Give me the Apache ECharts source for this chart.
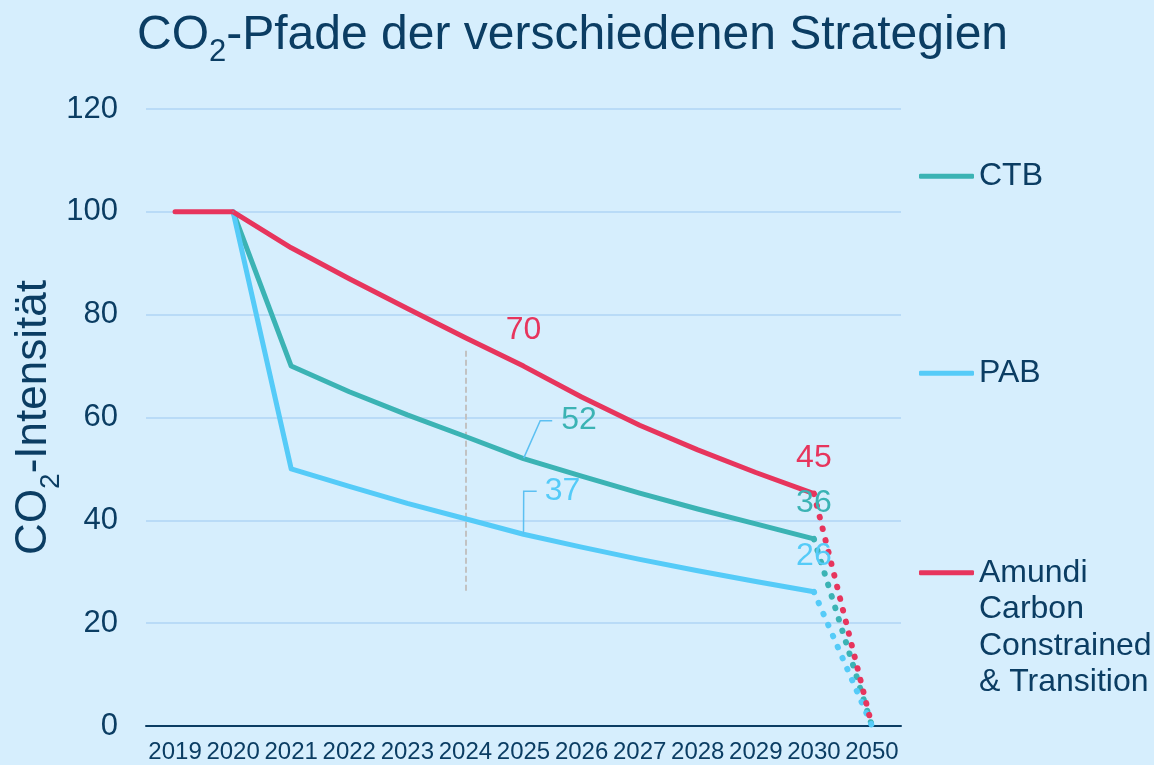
<!DOCTYPE html>
<html>
<head>
<meta charset="utf-8">
<script src="https://cdn.jsdelivr.net/npm/echarts/dist/echarts.min.js"></script>
<style>
  html, body { margin: 0; padding: 0; background: #d6eefd; }
  #chart { width: 1154px; height: 765px; }
</style>
</head>
<body>
<div id="chart"></div>
<script>
  // Kategorien (Jahre) und Pfade
  const years = ['2019', '2020', '2021', '2022', '2023', '2024', '2025', '2026', '2027', '2028', '2029', '2030', '2050']
  const ctbValues = [null, 100, 70, 65, 60.5, 56.3, 52, 48.6, 45.3, 42.2, 39.3, 36.4, null]
  const pabValues = [null, 100, 50, 46.6, 43.3, 40.3, 37.3, 34.8, 32.4, 30.2, 28.1, 26.1, null]
  const amundiValues = [100, 100, 93, 87, 81.2, 75.5, 70, 64, 58.5, 53.7, 49.3, 45.2, null]
  // gepunktete Fortsetzung 2030 -> 2050
  const ctbOutlook = [null, null, null, null, null, null, null, null, null, null, null, 36.4, 0]
  const pabOutlook = [null, null, null, null, null, null, null, null, null, null, null, 26.1, 0]
  const amundiOutlook = [null, null, null, null, null, null, null, null, null, null, null, 45.2, 0]
  const yTicks = [0, 20, 40, 60, 80, 100, 120]
  // beschriftete Punkte und Hilfslinie
  const labelYears = ['2025', '2030']
  const guideYear = '2024'
  const guideRange = [73, 26]

  const names = ['CTB', 'PAB', 'Amundi Carbon Constrained & Transition']
  const colors = ['#3bb3b4', '#55cbf8', '#e7355d']
  const navy = '#0b3d63'
  const font = 'Arial, "Liberation Sans", Helvetica, sans-serif'

  const chart = echarts.init(document.getElementById('chart'), null, { renderer: 'canvas' })

  function withLabels(values, color, leader) {
    return values.map(function(v, i) {
      if (v == null || labelYears.indexOf(years[i]) < 0) return v
      const item = {
        value: v,
        label: {
          show: true,
          color: color,
          fontSize: 32,
          fontFamily: font,
          position: 'top',
          distance: 19,
          formatter: function(p) { return Math.round(p.value) }
        }
      }
      if (leader && years[i] === '2025') {
        // Beschriftung seitlich versetzt, mit Fuehrungslinie
        item.label.position = 'inside'
        item.label.backgroundColor = 'rgba(0,0,0,0)'
        item.label.padding = [leader.padV, 0, leader.padV, leader.pad]
        item.labelLine = { show: true, length2: leader.len, lineStyle: { color: '#5cc0f2', width: 1.5 } }
      }
      return item
    })
  }

  function solidSeries(idx, values, leader) {
    return {
      type: 'line',
      name: names[idx],
      data: withLabels(values, colors[idx], leader),
      color: colors[idx],
      symbol: 'circle',
      symbolSize: 1,
      showSymbol: true,
      lineStyle: { width: 5, color: colors[idx], cap: 'round', join: 'round' },
      labelLine: { show: false },
      labelLayout: leader ? function(p) {
        if (years[p.dataIndex] === '2025') return { dx: leader.dx, dy: leader.dy }
        return {}
      } : null,
      emphasis: { disabled: true },
      z: 3
    }
  }

  function dottedSeries(idx, values) {
    return {
      type: 'line',
      name: names[idx] + ' 2050',
      data: values,
      showSymbol: false,
      color: colors[idx],
      lineStyle: { width: 6, color: colors[idx], type: [0.5, 11.5], cap: 'round' },
      emphasis: { disabled: true },
      z: 2
    }
  }

  const ctb = solidSeries(0, ctbValues, { pad: 9, padV: 0, len: 12, dx: 51, dy: -38 })
  ctb.markLine = {
    silent: true,
    symbol: 'none',
    z: 1,
    label: { show: false },
    lineStyle: { color: '#c2c2c2', width: 2, type: [6, 3] },
    data: [[{ coord: [guideYear, guideRange[0]] }, { coord: [guideYear, guideRange[1]] }]]
  }

  chart.setOption({
    animation: false,
    backgroundColor: '#d6eefd',
    textStyle: { fontFamily: font },
    title: {
      text: 'CO{sub|2}-Pfade der verschiedenen Strategien',
      left: 132,
      top: -2,
      textStyle: {
        color: navy,
        fontSize: 48,
        fontWeight: 'normal',
        fontFamily: font,
        rich: {
          sub: { fontSize: 31, color: navy, fontFamily: font, padding: [34, 0, 0, 0] }
        }
      }
    },
    legend: [
      { data: [names[0]], left: 919, top: 158 },
      { data: [names[1]], left: 919, top: 355 },
      {
        data: [names[2]], left: 919, top: 445,
        // drei Leerzeilen, damit die erste Zeile auf Hoehe des Symbols steht
        formatter: function() { return '\n\n\nAmundi\nCarbon\nConstrained\n& Transition' }
      }
    ].map(function(l) {
      return Object.assign({
        orient: 'vertical',
        padding: 0,
        icon: 'roundRect',
        itemWidth: 55,
        itemHeight: 5,
        itemGap: 0,
        selectedMode: false,
        textStyle: { color: navy, fontSize: 32, fontFamily: font, lineHeight: 36.5 }
      }, l)
    }),
    grid: { left: 146, right: 253, top: 109, bottom: 39, containLabel: false, outerBoundsMode: 'none' },
    xAxis: {
      type: 'category',
      data: years,
      boundaryGap: true,
      axisLine: { lineStyle: { color: navy, width: 2 } },
      axisTick: { show: false },
      axisLabel: { interval: 0, color: navy, fontSize: 24, fontFamily: font, margin: 14 },
      splitLine: { show: false }
    },
    yAxis: {
      type: 'value',
      min: yTicks[0],
      max: yTicks[yTicks.length - 1],
      interval: yTicks[1] - yTicks[0],
      name: 'CO{sub|2}-Intensität',
      nameLocation: 'middle',
      nameRotate: 90,
      nameGap: 81,
      nameMoveOverlap: false,
      nameTextStyle: {
        color: navy,
        fontSize: 44,
        fontFamily: font,
        rich: {
          sub: { fontSize: 28, color: navy, fontFamily: font, padding: [34, 0, 0, 0] }
        }
      },
      axisLine: { show: false },
      axisTick: { show: false },
      axisLabel: { color: navy, fontSize: 31, fontFamily: font, margin: 28 },
      splitLine: { lineStyle: { color: '#b9dbf7', width: 2 } }
    },
    series: [
      dottedSeries(0, ctbOutlook),
      dottedSeries(1, pabOutlook),
      dottedSeries(2, amundiOutlook),
      ctb,
      solidSeries(1, pabValues, { pad: 8, padV: 50, len: 13, dx: 35, dy: -43 }),
      solidSeries(2, amundiValues, null)
    ]
  })
</script>
</body>
</html>
